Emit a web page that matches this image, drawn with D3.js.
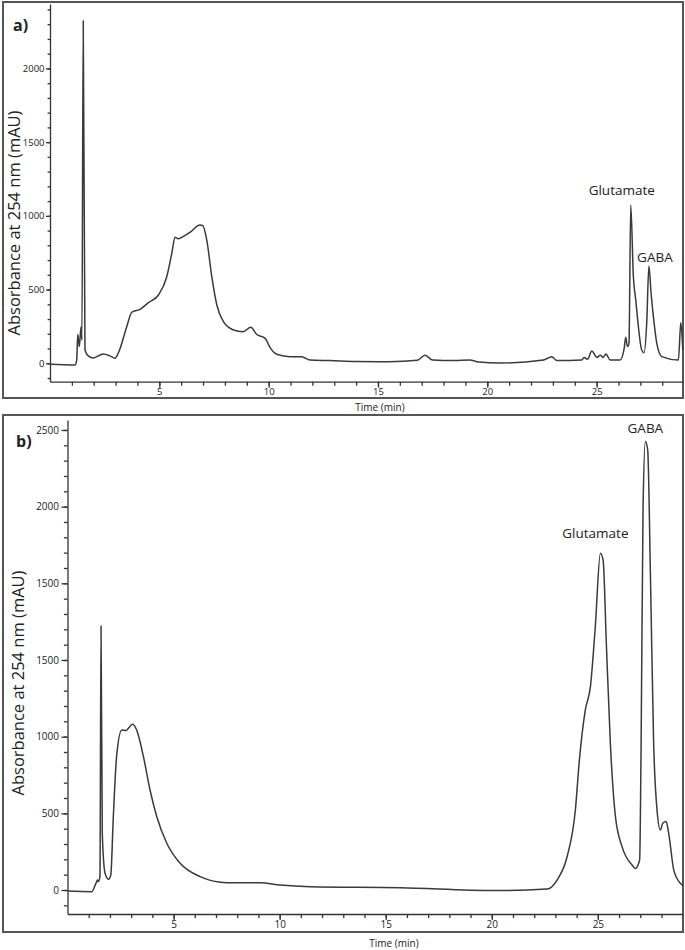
<!DOCTYPE html>
<html>
<head>
<meta charset="utf-8">
<script src="https://cdn.jsdelivr.net/npm/d3@7"></script>
<style>
  body { margin: 0; background: #fff; }
  text { font-family: 'Open Sans', sans-serif; fill: #222; }
</style>
</head>
<body>
<svg id="chart" width="685" height="950"></svg>
<script>
// panel a) chromatogram, time (min) vs absorbance (mAU)
const timeA = [0, 1.14, 1.22, 1.27, 1.34, 1.42, 1.46, 1.52, 1.60, 1.75, 1.98, 2.44, 2.74, 2.97, 3.12,
  3.51, 3.74, 4.12, 4.50, 4.96, 5.34, 5.57, 5.72, 5.87, 6.02, 6.40, 6.86, 6.98, 7.17, 7.40, 7.63,
  7.93, 8.39, 8.84, 9.18, 9.45, 9.84, 10.06, 10.37, 10.98, 11.51, 11.89, 12.81, 14.0, 15.5, 16.8,
  17.15, 17.5, 18.5, 19.2, 19.6, 20.59, 22.57, 22.95, 23.18, 24.32, 24.43, 24.58, 24.78, 25.01,
  25.16, 25.30, 25.42, 25.62, 26.07, 26.26, 26.33, 26.41, 26.48, 26.56, 26.68, 26.79, 26.91,
  27.06, 27.17, 27.29, 27.39, 27.49, 27.63, 27.75, 27.98, 28.74, 28.85, 28.94]
const absA = [-7, -12, 20, 197, 113, 248, 158, 2323, 90, 50, 36, 63, 50, 34, 68,
  248, 346, 366, 411, 463, 587, 746, 854, 845, 854, 888, 938, 935, 836, 587, 395,
  282, 226, 214, 244, 197, 169, 108, 61, 45, 45, 22, 18, 12, 10, 20,
  55, 22, 18, 22, 8, 2, 22, 45, 18, 22, 40, 27, 83, 40,
  54, 40, 63, 22, 22, 101, 176, 113, 135, 1073, 587, 429, 248,
  90, 72, 271, 660, 475, 271, 136, 45, 22, 276, 90]

// panel b) chromatogram (values on the axis as drawn)
const timeB = [0, 1.14, 1.34, 1.42, 1.45, 1.53, 1.58, 1.64, 1.77, 1.93, 2.04, 2.16, 2.32, 2.56,
  2.76, 2.84, 3.07, 3.26, 3.58, 3.89, 4.21, 4.68, 5.31, 6.25, 7.51, 9.08, 10.02, 11.44, 15.68,
  20.08, 22.6, 23.1, 23.55, 23.94, 24.13, 24.41, 24.65, 24.88, 25.12, 25.25, 25.40, 25.59, 25.83,
  26.14, 26.61, 26.77, 26.97, 27.04, 27.13, 27.24, 27.35, 27.48, 27.63, 27.79, 27.95, 28.06,
  28.22, 28.34, 28.58, 28.89, 29.0]
const absB = [-7, -11, 43, 65, 54, 87, 1722, 370, 109, 70, 98, 478, 880, 1043,
  1040, 1050, 1081, 1043, 870, 652, 478, 305, 174, 87, 48, 48, 33, 22, 15,
  -4, 6, 70, 217, 522, 848, 1174, 1326, 1717, 2196, 2150, 1609, 957, 478,
  283, 163, 141, 196, 957, 2478, 2924, 2870, 2043, 957, 522, 391, 435,
  446, 370, 130, 44, 30]

const xTicks = [5, 10, 15, 20, 25]
const yTicksA = [0, 500, 1000, 1500, 2000]
const yLabelsA = ['0', '500', '1000', '1500', '2000']
const yTicksB = [0, 500, 1000, 1500, 2000, 2500, 3000]
const yLabelsB = ['0', '500', '1000', '1500', '1500', '2000', '2500']

const peaksA = [{ name: 'Glutamate', t: 26.56, v: 1073 }, { name: 'GABA', t: 27.39, v: 660 }]
const peaksB = [{ name: 'Glutamate', t: 25.12, v: 2196 }, { name: 'GABA', t: 27.24, v: 2924 }]

const svg = d3.select('#chart')

function drawPanel (p) {
  const g = svg.append('g')

  // frame
  g.append('rect')
    .attr('x', p.box[0]).attr('y', p.box[1])
    .attr('width', p.box[2]).attr('height', p.box[3])
    .attr('fill', 'none').attr('stroke', '#555').attr('stroke-width', 2)

  const x = d3.scaleLinear().domain(p.xDomain).range(p.xRange)
  const y = d3.scaleLinear().domain(p.yDomain).range(p.yRange)

  // minor ticks
  g.append('g')
    .attr('transform', `translate(${p.xRange[0]},0)`)
    .call(d3.axisLeft(y).tickValues(d3.range(-100, p.yDomain[1], 100)).tickSize(p.tick * 0.6).tickFormat(''))
    .call(s => s.select('.domain').remove())
  g.append('g')
    .attr('transform', `translate(0,${p.yRange[0]})`)
    .call(d3.axisBottom(x).tickValues(d3.range(1, p.xDomain[1], 1)).tickSize(4).tickFormat(''))
    .call(s => s.select('.domain').remove())

  // major axes
  const yAxis = g.append('g')
    .attr('transform', `translate(${p.xRange[0]},0)`)
    .call(d3.axisLeft(y).tickValues(p.yTicks).tickSize(p.tick).tickSizeOuter(0).tickPadding(p.pad)
      .tickFormat((d, i) => p.yLabels[i]))
  const xAxis = g.append('g')
    .attr('transform', `translate(0,${p.yRange[0]})`)
    .call(d3.axisBottom(x).tickValues(xTicks).tickSize(6).tickSizeOuter(0).tickPadding(1))
  ;[yAxis, xAxis].forEach(a => {
    a.selectAll('path, line').attr('stroke', '#333').attr('stroke-width', 1.3)
    a.selectAll('text').style('font-size', p.tickFont).attr('fill', '#333')
  })
  g.selectAll('.tick line').attr('stroke', '#333').attr('stroke-width', 1.3)

  // trace
  const pts = p.times.map((t, i) => [t, p.values[i]])
  g.append('path')
    .datum(pts)
    .attr('fill', 'none')
    .attr('stroke', '#3a3a3a')
    .attr('stroke-width', 1.5)
    .attr('stroke-linejoin', 'round')
    .attr('d', d3.line().x(d => x(d[0])).y(d => y(d[1])).curve(d3.curveMonotoneX))

  // peak names
  g.selectAll('.peak')
    .data(p.peaks)
    .join('text')
    .attr('class', 'peak')
    .attr('x', (d, i) => x(d.t) + p.peakOffsets[i][0])
    .attr('y', (d, i) => y(d.v) + p.peakOffsets[i][1])
    .attr('text-anchor', 'middle')
    .style('font-size', '13.5px')
    .text(d => d.name)

  // titles
  g.append('text')
    .attr('transform', `translate(${p.yTitle[0]},${p.yTitle[1]}) rotate(-90)`)
    .attr('text-anchor', 'middle')
    .attr('dy', '0.35em')
    .style('font-size', '16.5px')
    .text('Absorbance at 254 nm (mAU)')
  g.append('text')
    .attr('x', p.xTitle[0]).attr('y', p.xTitle[1])
    .attr('text-anchor', 'middle')
    .attr('dy', '0.35em')
    .style('font-size', '10px')
    .text('Time (min)')
  g.append('text')
    .attr('x', p.tag[0]).attr('y', p.tag[1])
    .attr('dy', '0.35em')
    .style('font-size', '16px')
    .style('font-weight', 'bold')
    .text(p.name)
}

drawPanel({
  name: 'a)',
  box: [3, 2, 680, 396],
  xDomain: [0, 28.95],
  xRange: [50, 683],
  yDomain: [-125, 2437],
  yRange: [381.7, 4],
  yTicks: yTicksA,
  yLabels: yLabelsA,
  tick: 4,
  pad: 1.5,
  tickFont: '9.5px',
  times: timeA,
  values: absA,
  peaks: peaksA,
  peakOffsets: [[-9, -10], [6, -4]],
  yTitle: [14, 223],
  xTitle: [380, 407],
  tag: [13, 25]
})

drawPanel({
  name: 'b)',
  box: [3, 415, 680, 517],
  xDomain: [0, 29.0],
  xRange: [67.5, 682.7],
  yDomain: [-156.5, 3065],
  yRange: [914, 420],
  yTicks: yTicksB,
  yLabels: yLabelsB,
  tick: 6,
  pad: 2.5,
  tickFont: '10px',
  times: timeB,
  values: absB,
  peaks: peaksB,
  peakOffsets: [[-5, -15], [0, -9]],
  yTitle: [18.5, 683],
  xTitle: [394, 943],
  tag: [16, 441]
})
</script>
</body>
</html>
